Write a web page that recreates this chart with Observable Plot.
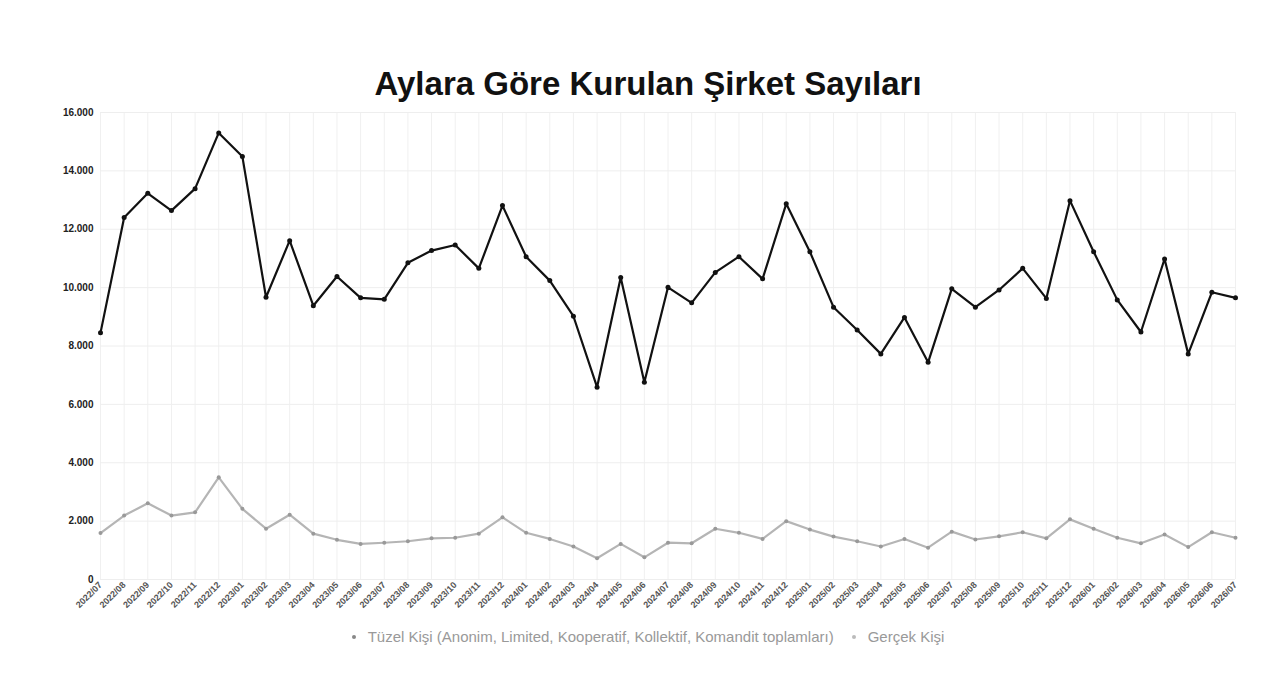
<!DOCTYPE html>
<html>
<head>
<meta charset="utf-8">
<script src="https://cdn.jsdelivr.net/npm/d3@7"></script>
<script src="https://cdn.jsdelivr.net/npm/@observablehq/plot@0.6"></script>
<style>
  body { margin: 0; background: #fff; font-family: "Liberation Sans", Arial, sans-serif; }
  #title { text-align: center; font-weight: bold; font-size: 33px; line-height: 36px; padding-top: 66px; padding-left: 16px; height: 36px; color: #111; }
  #legend { text-align: center; font-size: 15px; color: #999; height: 20px; line-height: 20px; padding-left: 16px; }
  #legend .item { margin: 0 9px; }
  #legend .dot { display: inline-block; width: 4px; height: 4px; border-radius: 2px; margin: 0 12px 3px 0; vertical-align: middle; }
</style>
</head>
<body>
<div id="title">Aylara Göre Kurulan Şirket Sayıları</div>
<div id="chart"></div>
<div id="legend"></div>
<script>
const aylar = [
  "2022/07","2022/08","2022/09","2022/10","2022/11","2022/12",
  "2023/01","2023/02","2023/03","2023/04","2023/05","2023/06","2023/07","2023/08","2023/09","2023/10","2023/11","2023/12",
  "2024/01","2024/02","2024/03","2024/04","2024/05","2024/06","2024/07","2024/08","2024/09","2024/10","2024/11","2024/12",
  "2025/01","2025/02","2025/03","2025/04","2025/05","2025/06","2025/07","2025/08","2025/09","2025/10","2025/11","2025/12",
  "2026/01","2026/02","2026/03","2026/04","2026/05","2026/06","2026/07"
];

// Tüzel Kişi (siyah çizgi)
const tuzel = [8450, 12400, 13230, 12640, 13390, 15300, 14490, 9670, 11610, 9380,
  10380, 9650, 9600, 10850, 11270, 11460, 10660, 12810, 11060, 10240,
  9020, 6590, 10350, 6760, 10010, 9480, 10520, 11060, 10300, 12870,
  11230, 9330, 8550, 7730, 8980, 7440, 9960, 9330, 9920, 10660,
  9630, 12980, 11230, 9580, 8480, 10980, 7730, 9840, 9650];

// Gerçek Kişi (gri çizgi)
const gercek = [1590, 2190, 2610, 2190, 2300, 3500, 2420, 1740, 2220, 1570,
  1360, 1220, 1260, 1310, 1410, 1430, 1570, 2130, 1600, 1390,
  1130, 730, 1220, 760, 1260, 1240, 1740, 1600, 1390, 2000,
  1710, 1470, 1310, 1130, 1390, 1090, 1640, 1370, 1480, 1620,
  1410, 2060, 1740, 1430, 1240, 1540, 1110, 1620, 1430];

const yTicks = [0, 2000, 4000, 6000, 8000, 10000, 12000, 14000, 16000];

const seriler = [
  {ad: "Tüzel Kişi (Anonim, Limited, Kooperatif, Kollektif, Komandit toplamları)", degerler: tuzel, renk: "#111", nokta: "#111", lejant: "#888"},
  {ad: "Gerçek Kişi", degerler: gercek, renk: "#b5b5b5", nokta: "#999", lejant: "#bbb"}
];

const data = seriler.flatMap(s => s.degerler.map((v, i) => ({ay: aylar[i], deger: v, seri: s.ad})));

const fmt = d => d3.format(",")(d).replace(/,/g, ".");

const chart = Plot.plot({
  width: 1280,
  height: 525,
  marginTop: 10,
  marginBottom: 48,
  marginLeft: 100,
  marginRight: 45,
  style: { fontFamily: "Liberation Sans, Arial, sans-serif", color: "#222", background: "#fff" },
  x: { type: "point", domain: aylar, padding: 0, label: null },
  y: { domain: [0, 16000], label: null },
  marks: [
    Plot.gridX(aylar, { stroke: "#f0f0f0", strokeOpacity: 1 }),
    Plot.gridY(yTicks, { stroke: "#eeeeee", strokeOpacity: 1 }),
    Plot.axisY({ ticks: yTicks, tickFormat: fmt, tickSize: 0, tickPadding: 7, fontSize: 10, fontWeight: "bold", label: null }),
    Plot.axisX({ tickSize: 0, tickRotate: -45, tickPadding: 4, fontSize: 9, fontWeight: "bold", fill: "#555", label: null }),
    // önce gri, sonra siyah seri
    ...[seriler[1], seriler[0]].flatMap(s => [
      Plot.lineY(data.filter(d => d.seri === s.ad), { x: "ay", y: "deger", stroke: s.renk, strokeWidth: 2.2 }),
      Plot.dot(data.filter(d => d.seri === s.ad), { x: "ay", y: "deger", fill: s.nokta, r: s === seriler[0] ? 2.5 : 2 })
    ])
  ]
});

document.getElementById("chart").append(chart);

const legend = d3.select("#legend");
seriler.forEach(s => {
  const item = legend.append("span").attr("class", "item");
  item.append("span").attr("class", "dot").style("background", s.lejant);
  item.append("span").text(s.ad);
});
</script>
</body>
</html>
